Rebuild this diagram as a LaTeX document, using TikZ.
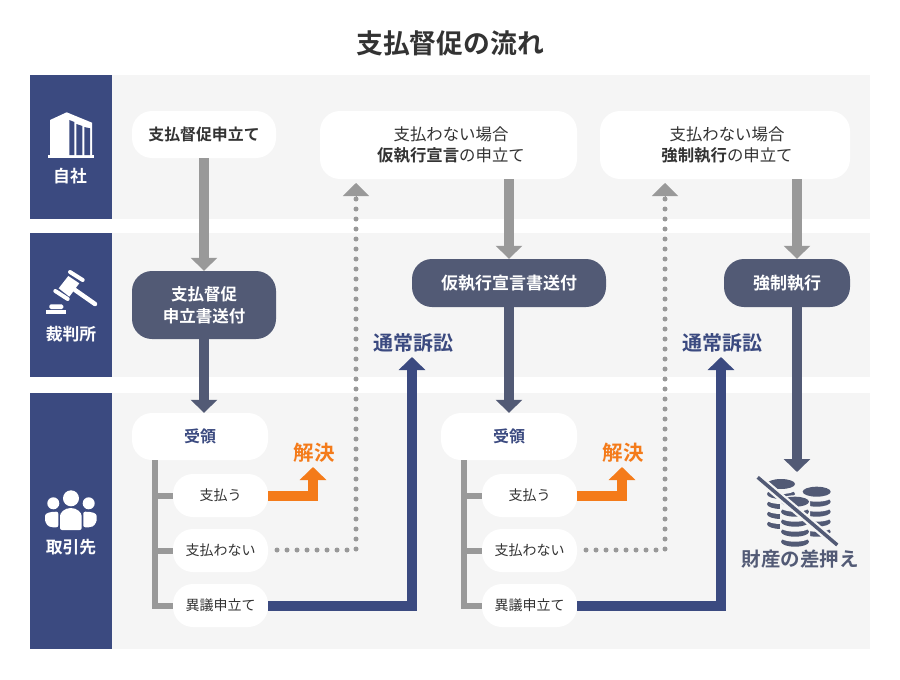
\documentclass[tikz,border=0pt]{standalone}
\usepackage{fontspec}
\setmainfont{Noto Sans CJK JP}[BoldFont={Noto Sans CJK JP Bold}]
\usetikzlibrary{arrows.meta,calc}
\definecolor{navy}{HTML}{3B4A80}
\definecolor{slate}{HTML}{525A75}
\definecolor{greyline}{HTML}{999999}
\definecolor{orangeline}{HTML}{F47B1A}
\definecolor{panel}{HTML}{F5F5F5}
\definecolor{ink}{HTML}{333333}
\tikzset{
  fs/.style={font=\fontsize{#1}{21}\selectfont},
  fsb/.style={font=\fontsize{#1}{22}\selectfont\bfseries},
  wbox/.style={fill=white,rounded corners=20pt,inner sep=0pt,text=ink,align=center},
  dbox/.style={fill=slate,rounded corners=20pt,inner sep=0pt,text=white,align=center},
  arrowline/.style={line width=10pt,line join=miter,-{Triangle[length=13pt,width=26pt]}},
  greyarrow/.style={arrowline,draw=greyline},
  slatearrow/.style={arrowline,draw=slate},
  navyarrow/.style={arrowline,draw=navy},
  orangearrow/.style={arrowline,draw=orangeline},
  dotline/.style={draw=greyline,line width=5pt,line cap=round,dash pattern=on 0pt off 10pt},
  dothead/.style={draw=greyline,line width=1pt,-{Triangle[length=13pt,width=26pt]}},
  bracket/.style={draw=greyline,line width=6pt,line join=miter},
  sidelabel/.style={text=white,fsb=16.8},
}
\newcommand{\coinstack}[3]{% x, top y, layers
  \fill[panel] (#1-15,#2) -- (#1-15,#2+#3*10) arc[start angle=180,end angle=0,x radius=15,y radius=6.5] -- (#1+15,#2)
     arc[start angle=0,end angle=-180,x radius=15,y radius=6.5] -- cycle;
  \foreach \k in {#3,...,1}{
    \fill[slate] (#1,#2+\k*10) ellipse[x radius=14,y radius=5];
    \fill[panel] (#1,#2+\k*10-5) ellipse[x radius=15,y radius=5];
  }
  \fill[slate] (#1,#2) ellipse[x radius=14,y radius=5];
}
\begin{document}
\begin{tikzpicture}[x=1pt,y=-1pt]
\useasboundingbox (0,0) rectangle (900,680);
% panels
\fill[panel] (112,75) rectangle (870,219);
\fill[panel] (112,233) rectangle (870,377);
\fill[panel] (112,393) rectangle (870,649);
\fill[navy] (30,75) rectangle (112,219);
\fill[navy] (30,233) rectangle (112,377);
\fill[navy] (30,393) rectangle (112,649);
\node[text=ink,fsb=26.8] (title) at (450,43) {支払督促の流れ};
\node[sidelabel] (side1) at (70,176) {自社};
\node[sidelabel] (side2) at (71,334) {裁判所};
\node[sidelabel] (side3) at (71,547) {取引先};
% building icon
\fill[white] (48,155) rectangle (94,157.7);
\fill[white] (50,120) -- (66.7,112.3) -- (92,122.7) -- (92,155) -- (50,155) -- cycle;
\fill[navy] (69.3,120) -- (74.3,122) -- (74.3,155) -- (69.3,155) -- cycle;
\fill[navy] (76.3,124) -- (82.3,126) -- (82.3,155) -- (76.3,155) -- cycle;
\fill[navy] (84.3,127) -- (90,128.3) -- (90,155) -- (84.3,155) -- cycle;
% gavel icon
\draw[white,line width=4.5pt,line cap=round] (75,290) -- (95,304);
\draw[white,line width=4pt,line cap=round] (70,272) -- (82.7,280);
\draw[white,line width=4pt,line cap=round] (55.3,291) -- (67.7,299);
\fill[white] (68.3,276) -- (79.3,283.3) -- (69.3,296.7) -- (58.7,288.3) -- cycle;
\fill[white] (46,310) rectangle (66,313.7);
\fill[white,rounded corners=1.5pt] (49.3,309) -- (49.3,304.3) -- (63.3,304.3) -- (63.3,309) -- cycle;
% people icon
\fill[white] (71,498.3) circle[radius=8];
\fill[white] (53.3,503.3) circle[radius=6];
\fill[white] (88.7,503.3) circle[radius=6];
\fill[white,rounded corners=2pt] (60,530) -- (60,518) arc[start angle=180,end angle=360,x radius=10.85,y radius=10] -- (81.7,530) -- cycle;
\fill[white,rounded corners=2pt] (58.3,527.3) -- (51,527.3) .. controls (46,525) and (45,520) .. (45,518) .. controls (45,513) and (50,511.7) .. (58.3,511.7) -- cycle;
\fill[white,rounded corners=2pt] (83.3,527.3) -- (90.7,527.3) .. controls (95.7,525) and (96.7,520) .. (96.7,518) .. controls (96.7,513) and (91.7,511.7) .. (83.3,511.7) -- cycle;
% upper nodes
\node[wbox,fsb=15.9,minimum width=144pt,minimum height=47pt] (n1) at (204,134.5) {支払督促申立て};
\node[wbox,fs=16.4,minimum width=257pt,minimum height=68pt] (n2) at (448.5,145) {\hspace*{5pt}支払わない場合\\\hspace*{5pt}\textbf{仮執行宣言}の申立て};
\node[wbox,fs=16.4,minimum width=250pt,minimum height=68pt] (n3) at (725,145) {\hspace*{4pt}支払わない場合\\\hspace*{4pt}\textbf{強制執行}の申立て};
\node[dbox,fsb=16.5,minimum width=144pt,minimum height=68pt] (c1) at (204,305) {支払督促\\申立書送付};
\node[dbox,fsb=17,minimum width=194pt,minimum height=48pt] (c2) at (509,283) {仮執行宣言書送付};
\node[dbox,fsb=17,minimum width=126pt,minimum height=48pt] (c3) at (787,283) {強制執行};
\coordinate (x3) at (797,0);
\coordinate (seize) at (797,472);
\draw[greyarrow] (n1) -- (c1);
\draw[greyarrow] (c2.north |- n2.south) -- (c2.north);
\draw[greyarrow] (x3 |- n3.south) -- (x3 |- c3.north);
\draw[slatearrow] (x3 |- c3.south) -- (seize);
% lower blocks
\foreach \p/\dx in {L/0,R/309}{
\begin{scope}[xshift=\dx pt,name prefix=\p-]
  \node[wbox,fsb=16,text=navy,minimum width=136pt,minimum height=47pt] (r1) at (200,436.5) {受領};
  \node[wbox,fs=14,minimum width=95pt,minimum height=43pt] (r2) at (220.5,495.5) {支払う};
  \node[wbox,fs=14,minimum width=95pt,minimum height=43pt] (r3) at (220.5,550.5) {支払わない};
  \node[wbox,fs=14,minimum width=95pt,minimum height=43pt] (r4) at (220.5,605.5) {異議申立て};
  \coordinate (bx) at (155,460);
  \coordinate (orangetip) at (313,467);
  \coordinate (dotstart) at (277,550);
  \coordinate (dotstop) at (356,197);
  \coordinate (dottip) at (356,183);
  \coordinate (navytip) at (412,357);
  \node[text=orangeline,fsb=20.5] (solved) at (314,453) {解決};
  \node[text=navy,fsb=20] (suit) at (413,343) {通常訴訟};
  \draw[bracket] (bx) -- (bx |- r4) -- (r4.west);
  \draw[bracket] (bx |- r2) -- (r2.west);
  \draw[bracket] (bx |- r3) -- (r3.west);
  \draw[orangearrow] (r2.east) -| (orangetip);
  \draw[dotline] (dotstart) -| (dotstop);
  \draw[dothead] (dotstop) -- (dottip);
  \draw[navyarrow] (r4.east) -| (navytip);
\end{scope}
}
\draw[slatearrow] (c1.south) -- (c1.south |- L-r1.north);
\draw[slatearrow] (c2) -- (c2.south |- R-r1.north);
% coins icon
\coinstack{781}{484}{4}
\coinstack{816.7}{491.7}{4}
\coinstack{795}{501.7}{4}
\draw[panel,line width=8pt] (759,478.5) -- (836,544);
\draw[slate,line width=3.5pt] (757.7,477.3) -- (837.3,545);
\node[text=slate,fsb=19.5] (assets) at (800,559) {財産の差押え};
\end{tikzpicture}
\end{document}
